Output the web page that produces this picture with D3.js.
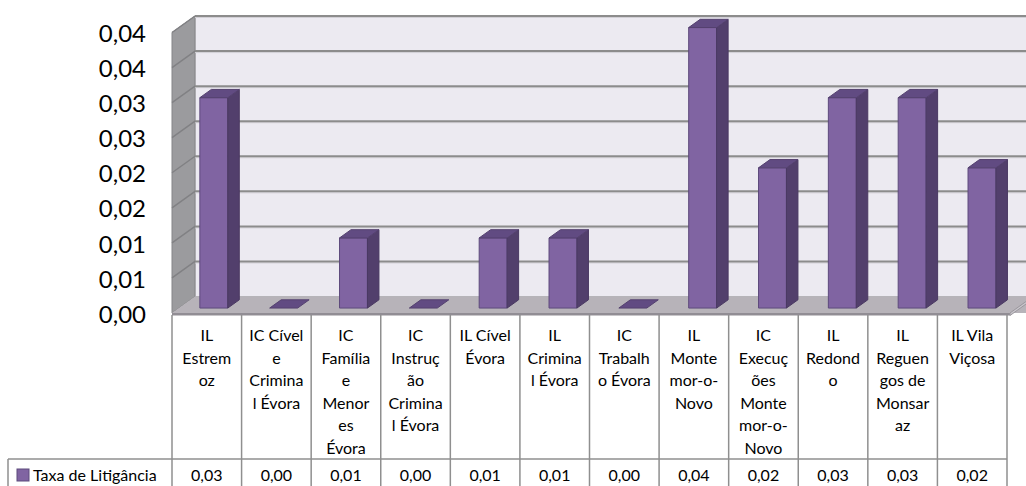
<!DOCTYPE html>
<html>
<head>
<meta charset="utf-8">
<script src="https://cdn.jsdelivr.net/npm/d3@7"></script>
<style>
  html, body { margin: 0; padding: 0; background: #ffffff; }
  svg { display: block; }
  text { font-family: Lato, "Liberation Sans", sans-serif; fill: #000; }
</style>
</head>
<body>
<svg id="chart" width="1026" height="486"></svg>
<script>
// Courts and their litigation rate
const categories = [
  "IL Estremoz", "IC Cível e Criminal Évora", "IC Família e Menores Évora",
  "IC Instrução Criminal Évora", "IL Cível Évora", "IL Criminal Évora",
  "IC Trabalho Évora", "IL Montemor-o-Novo", "IC Execuções Montemor-o-Novo",
  "IL Redondo", "IL Reguengos de Monsaraz", "IL Vila Viçosa"
];
// Header text as it wraps inside the narrow data-table columns
const categoryLines = [
  ["IL", "Estrem", "oz"],
  ["IC Cível", "e", "Crimina", "l Évora"],
  ["IC", "Família", "e", "Menor", "es", "Évora"],
  ["IC", "Instruç", "ão", "Crimina", "l Évora"],
  ["IL Cível", "Évora"],
  ["IL", "Crimina", "l Évora"],
  ["IC", "Trabalh", "o Évora"],
  ["IL", "Monte", "mor-o-", "Novo"],
  ["IC", "Execuç", "ões", "Monte", "mor-o-", "Novo"],
  ["IL", "Redond", "o"],
  ["IL", "Reguen", "gos de", "Monsar", "az"],
  ["IL Vila", "Viçosa"]
];
const seriesName = "Taxa de Litigância";
const values = [0.03, 0.00, 0.01, 0.00, 0.01, 0.01, 0.00, 0.04, 0.02, 0.03, 0.03, 0.02];
const yTickValues = [0, 0.005, 0.01, 0.015, 0.02, 0.025, 0.03, 0.035, 0.04];
const yTickLabels = ["0,00", "0,01", "0,01", "0,02", "0,02", "0,03", "0,03", "0,04", "0,04"];

const svg = d3.select("#chart");

// 3D box geometry: front floor edge, depth offset of the back wall
const base = 313, depthX = 23, depthY = 16.5;
const x = d3.scaleBand().domain(categories).range([172, 1010]);
const xTable = d3.scaleBand().domain(categories).range([172, 1007]);
const h = d3.scaleLinear().domain([0, 0.04]).range([0, 280.5]);
const yAxisScale = d3.scaleLinear().domain([0, 0.04]).range([base, base - 280.5]);

// project a point given front-plane x, height above floor, depth 0..1
const P = (px, ph, d) => [px + d * depthX, base - ph - d * depthY];
const poly = pts => "M" + pts.map(p => p.join(",")).join("L") + "Z";

const x0 = 172, x1 = 1010, wallTop = h(0.04);

// back wall
svg.append("path")
  .attr("d", poly([P(x0, 0, 1), P(x0, wallTop, 1), P(x1 + 40, wallTop, 1), P(x1 + 40, 0, 1)]))
  .attr("fill", "#ECEAF1").attr("stroke", "#b4b4b8").attr("stroke-width", 1);

// left side wall
svg.append("path")
  .attr("d", poly([P(x0, 0, 0), P(x0, wallTop, 0), P(x0, wallTop, 1), P(x0, 0, 1)]))
  .attr("fill", "#9b9b9e").attr("stroke", "#858588").attr("stroke-width", 1);

// gridlines on back wall and side wall
const grid = svg.append("g");
yTickValues.forEach(v => {
  if (v === 0) return;
  const a = P(x0, h(v), 1), b = P(x1 + 40, h(v), 1);
  grid.append("line").attr("x1", a[0]).attr("y1", a[1] + 1.5).attr("x2", b[0]).attr("y2", b[1] + 1.5)
    .attr("stroke", "#d2d0d6").attr("stroke-width", 1);
  grid.append("line").attr("x1", a[0]).attr("y1", a[1]).attr("x2", b[0]).attr("y2", b[1])
    .attr("stroke", "#8c8c8c").attr("stroke-width", 2);
  const c = P(x0, h(v), 0);
  grid.append("line").attr("x1", c[0]).attr("y1", c[1]).attr("x2", a[0]).attr("y2", a[1])
    .attr("stroke", "#818184").attr("stroke-width", 1.5);
});

// floor slab
svg.append("path")
  .attr("d", poly([P(x0, 0, 0), P(x0, 0, 1), P(x1 + 40, 0, 1), P(x1 + 40 - depthX, 0, 0)]))
  .attr("fill", "#b7b3b9");
svg.append("path")
  .attr("d", poly([[x0, base], [x1, base], [x1, base + 2.5], [x0, base + 2.5]]))
  .attr("fill", "#918d94");
svg.append("path")
  .attr("d", poly([[x1, base], P(x1, 0, 1), [x1 + depthX, base - depthY + 2.5], [x1, base + 2.5]]))
  .attr("fill", "#c9c6cc").attr("stroke", "#9a979d").attr("stroke-width", 1);

// columns
const bw = x.bandwidth() * 0.4, dFront = 0.3, dBack = 0.8;
const bars = svg.append("g").selectAll("g").data(categories).join("g");
bars.each(function (c, i) {
  const g = d3.select(this);
  const L = x(c) + (x.bandwidth() - bw) / 2, R = L + bw, H = h(values[i]);
  if (H > 0) {
    g.append("path").attr("d", poly([P(L, 0, dFront), P(L, H, dFront), P(R, H, dFront), P(R, 0, dFront)]))
      .attr("fill", "#8064A2").attr("stroke", "#5d4a7c").attr("stroke-width", 1);
    g.append("path").attr("d", poly([P(R, 0, dFront), P(R, H, dFront), P(R, H, dBack), P(R, 0, dBack)]))
      .attr("fill", "#523F6C").attr("stroke", "#4a3962").attr("stroke-width", 1);
  }
  g.append("path").attr("d", poly([P(L, H, dFront), P(L, H, dBack), P(R, H, dBack), P(R, H, dFront)]))
    .attr("fill", "#614B82").attr("stroke", "#54416f").attr("stroke-width", 1);
});

// value axis labels
const yAxis = svg.append("g").attr("transform", "translate(146,0)")
  .call(d3.axisLeft(yAxisScale).tickValues(yTickValues)
    .tickFormat((d, i) => yTickLabels[i]).tickSize(0).tickPadding(0));
yAxis.select(".domain").remove();
yAxis.selectAll("text").attr("font-size", 24).attr("font-family", "Lato, sans-serif")
  .attr("fill", "#000").attr("dy", "0.38em");

// data table
const table = svg.append("g");
const tTop = 315, tMid = 459, tBot = 487, lineCol = "#8f8f8f";
const lineH = 22.6, fs = 16;
categories.forEach((c, i) => {
  const cx = xTable(c) + xTable.bandwidth() / 2;
  categoryLines[i].forEach((s, k) => {
    table.append("text").attr("x", cx).attr("y", 335 + k * lineH).attr("dy", "0.38em")
      .attr("text-anchor", "middle").attr("font-size", fs).text(s);
  });
  table.append("text").attr("x", cx).attr("y", 475).attr("dy", "0.38em")
    .attr("text-anchor", "middle").attr("font-size", fs)
    .text(d3.format(".2f")(values[i]).replace(".", ","));
});
const vlines = categories.map(c => xTable(c)).concat([xTable.range()[1]]);
vlines.forEach(vx => {
  table.append("line").attr("x1", vx).attr("x2", vx).attr("y1", tTop).attr("y2", tBot)
    .attr("stroke", lineCol).attr("stroke-width", 1.5);
});
table.append("line").attr("x1", 8).attr("x2", 1007).attr("y1", tMid).attr("y2", tMid)
  .attr("stroke", lineCol).attr("stroke-width", 1.5);
table.append("line").attr("x1", 8).attr("x2", 8).attr("y1", tMid).attr("y2", tBot)
  .attr("stroke", lineCol).attr("stroke-width", 1.5);

// legend key
table.append("rect").attr("x", 17).attr("y", 469).attr("width", 12).attr("height", 12)
  .attr("fill", "#8064A2").attr("stroke", "#5d4a7c").attr("stroke-width", 1);
table.append("text").attr("x", 33).attr("y", 475).attr("dy", "0.38em")
  .attr("font-size", fs).text(seriesName);
</script>
</body>
</html>
